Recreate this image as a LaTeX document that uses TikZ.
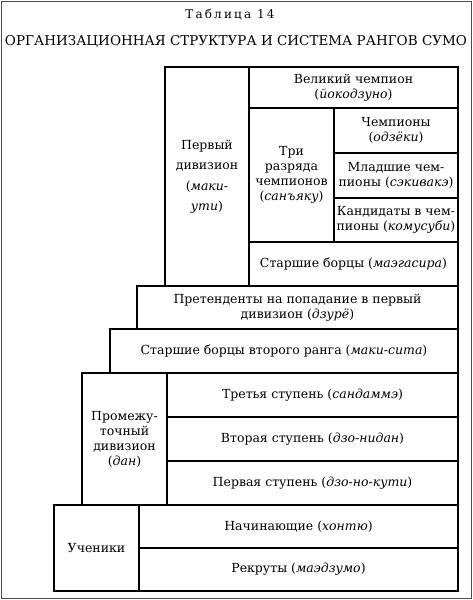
\documentclass[tikz,border=0pt]{standalone}
\usepackage{fontspec}
\setmainfont{DejaVu Serif}
\newfontfamily\spacedfont[LetterSpace=18]{DejaVu Serif}
\newcommand{\tabfont}{\fontsize{12.5}{15}\selectfont}
\begin{document}
\begin{tikzpicture}[x=1pt,y=-1pt,
    cell/.style={draw,line width=1.6pt,inner sep=0pt,align=center,font=\tabfont}]
                \useasboundingbox (0,0) rectangle (473,600);
                \draw [black!70,line width=1pt] (1,1) rectangle (471.5,598.5);
                % heading
                \node (tab) at (230,15) {\spacedfont\fontsize{12}{14}\selectfont Таблица 14};
                \node (head) at (236,42) {\fontsize{13.5}{16}\selectfont ОРГАНИЗАЦИОННАЯ СТРУКТУРА И СИСТЕМА РАНГОВ СУМО};
                % first division
                \node [cell,minimum width=84,minimum height=219,font=\fontsize{12.5}{20.5}\selectfont] (pd) at (207,176.5) {Первый\\дивизион\\(\textit{маки-}\\\textit{ути})};
                \node [cell,minimum width=209,minimum height=41] (yk) at (353.5,87.5) {Великий чемпион\\(\textit{йокодзуно})};
                \node [cell,minimum width=85,minimum height=134] (sy) at (291.5,175) {Три\\разряда\\чемпионов\\(\textit{санъяку})};
                \node [cell,minimum width=124,minimum height=45] (oz) at (396,130.5) {Чемпионы\\(\textit{одзёки})};
                \node [cell,minimum width=124,minimum height=45] (sk) at (396,175.5) {Младшие чем-\\пионы (\textit{сэкивакэ})};
                \node [cell,minimum width=124,minimum height=44] (km) at (396,220) {Кандидаты в чем-\\пионы (\textit{комусуби})};
                \node [cell,minimum width=209,minimum height=44] (mg) at (353.5,264) {Старшие борцы (\textit{маэгасира})};
                % lower steps
                \node [cell,minimum width=321,minimum height=43] (dz) at (297.5,307.5) {Претенденты на попадание в первый\\дивизион (\textit{дзурё})};
                \node [cell,minimum width=348,minimum height=44] (ms) at (284,351) {Старшие борцы второго ранга (\textit{маки-сита})};
                % intermediate division
                \node [cell,minimum width=85,minimum height=132] (dan) at (124.5,439) {Промежу-\\точный\\дивизион\\(\textit{дан})};
                \node [cell,minimum width=291,minimum height=44] (sd) at (312.5,395) {Третья ступень (\textit{сандаммэ})};
                \node [cell,minimum width=291,minimum height=44] (dn) at (312.5,439) {Вторая ступень (\textit{дзо-нидан})};
                \node [cell,minimum width=291,minimum height=44] (dk) at (312.5,483) {Первая ступень (\textit{дзо-но-кути})};
                % apprentices
                \node [cell,minimum width=85,minimum height=86] (uc) at (96.5,548) {Ученики};
                \node [cell,minimum width=319,minimum height=43] (ht) at (298.5,526.5) {Начинающие (\textit{хонтю})};
                \node [cell,minimum width=319,minimum height=43] (mz) at (298.5,569.5) {Рекруты (\textit{маэдзумо})};
\end{tikzpicture}
\end{document}
